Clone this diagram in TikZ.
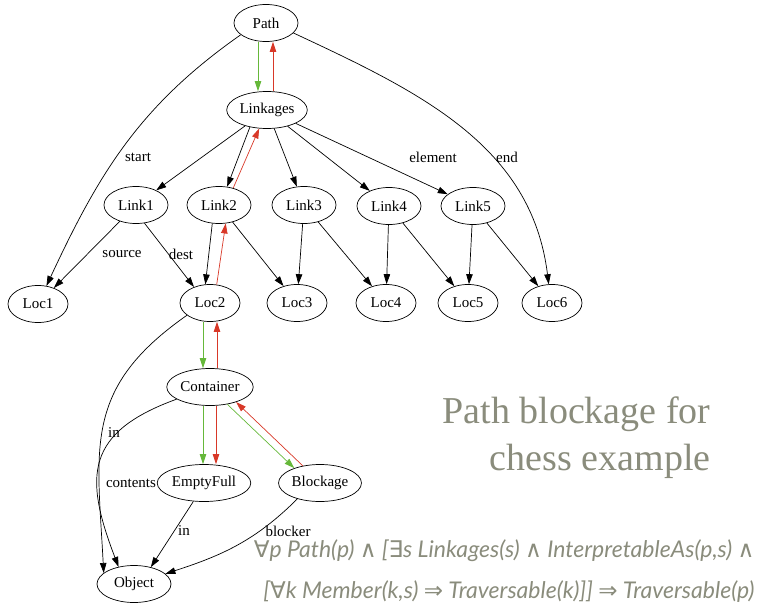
\documentclass[tikz,border=0pt]{standalone}
\usepackage{fontspec}
\setmainfont{Liberation Serif}
\newfontfamily\latofont{Lato}
\newfontfamily\dejavufont{DejaVu Sans}
\usetikzlibrary{shapes.geometric,arrows.meta}
\definecolor{fwdgreen}{RGB}{102,184,58}
\definecolor{bckred}{RGB}{216,56,40}
\definecolor{notegray}{RGB}{138,140,124}
\def\lsym#1{{\upshape\dejavufont #1}}
\def\nodefont{\fontsize{15}{17}\selectfont}

\begin{document}
\begin{tikzpicture}[x=1pt,y=1pt,
    st/.style={draw,ellipse,line width=0.7pt,minimum width=64pt,minimum height=37pt,inner xsep=1pt,font=\nodefont},
    lab/.style={inner sep=1pt,font=\nodefont},
    arr/.style={line width=0.7pt,-{Triangle[length=10pt,width=6.5pt]}},
    fwd/.style={arr,fwdgreen},
    bck/.style={arr,bckred}]
\useasboundingbox (0,0) rectangle (762,-607);

% top of the graph
\node[st] (Path) at (266,-23) {Path};
\node[st] (Linkages) at (267,-110) {Linkages};

\node[st] (Link1) at (136,-205) {Link1};
\node[st] (Link2) at (219,-205) {Link2};
\node[st] (Link3) at (304,-205) {Link3};
\node[st] (Link4) at (389,-206) {Link4};
\node[st] (Link5) at (473,-206) {Link5};

\node[st,minimum width=60pt] (Loc1) at (38,-304) {Loc1};
\node[st,minimum width=60pt] (Loc2) at (210,-303) {Loc2};
\node[st,minimum width=60pt] (Loc3) at (297,-303) {Loc3};
\node[st,minimum width=60pt] (Loc4) at (386,-303) {Loc4};
\node[st,minimum width=60pt] (Loc5) at (468,-303) {Loc5};
\node[st,minimum width=60pt] (Loc6) at (552,-303) {Loc6};

% lower part
\node[st] (Container) at (210,-387) {Container};
\node[st] (EmptyFull) at (204,-483) {EmptyFull};
\node[st] (Blockage) at (320,-483) {Blockage};
\node[st,minimum width=74pt] (Object) at (134,-584) {Object};

\node[lab] (lstart) at (138,-157) {start};
\node[lab] (lelement) at (433,-157) {element};
\node[lab] (lend) at (507,-157) {end};
\node[lab] (lsource) at (122,-254) {source};
\node[lab] (ldest) at (181,-254) {dest};
\node[lab] (lin) at (114,-433) {in};
\node[lab] (lcontents) at (131,-483) {contents};
\node[lab] (linb) at (184,-531) {in};
\node[lab] (lblocker) at (288,-531) {blocker};

\draw[fwd] ([xshift=-8pt]Path.south) -- ([xshift=-9pt]Linkages.north);
\draw[bck] ([xshift=6pt]Linkages.north) -- ([xshift=7pt]Path.south);
\draw[arr] (Path.205) to[out=215,in=65] (Loc1.65);
\draw[arr] (Path.-20) to[out=-25,in=97] (Loc6.100);

\draw[arr] (Linkages) -- (Link1);
\draw[arr] (Linkages.225) -- (Link2.66);
\draw[bck] (Link2.50) -- (Linkages.247);
\draw[arr] (Linkages) -- (Link3);
\draw[arr] (Linkages) -- (Link4);
\draw[arr] (Linkages) -- (Link5);

\draw[arr] (Link1) -- (Loc1);
\draw[arr] (Link1.295) -- (Loc2.135);
\draw[arr] (Link2.250) -- (Loc2.104);
\draw[bck] (Loc2.70) -- (Link2.290);
\draw[arr] (Link2) -- (Loc3);
\draw[arr] (Link3) -- (Loc3);
\draw[arr] (Link3) -- (Loc4);
\draw[arr] (Link4) -- (Loc4);
\draw[arr] (Link4) -- (Loc5);
\draw[arr] (Link5) -- (Loc5);
\draw[arr] (Link5) -- (Loc6);

\draw[fwd] ([xshift=-7pt]Loc2.south) -- ([xshift=-7pt]Container.north);
\draw[bck] ([xshift=7pt]Container.north) -- ([xshift=7pt]Loc2.south);
\draw[fwd] ([xshift=-7pt]Container.south) -- ([xshift=-1pt]EmptyFull.north);
\draw[bck] ([xshift=6pt]Container.south) -- ([xshift=12pt]EmptyFull.north);
\draw[fwd] (Container.315) -- (Blockage.150);
\draw[bck] (Blockage.135) -- (Container.330);

\draw[arr] (Loc2.208) to[out=215,in=93,looseness=1.2] (Object.160);
\draw[arr] (Container.200) to[out=200,in=111,looseness=1.4] (Object.132);
\draw[arr] (EmptyFull.240) -- (Object.45);
\draw[arr] (Blockage.215) to[out=225,in=18] (Object.18);

% caption and formula
\node[anchor=east,align=right,text=notegray,font=\fontsize{38}{47}\selectfont] (title) at (714,-438) {Path blockage for\\chess example};
\node[anchor=east,text=notegray,font=\latofont\itshape\fontsize{23}{27}\selectfont] (form1) at (758,-551)
  {\lsym{∀}p Path(p) \lsym{∧} [\lsym{∃}s Linkages(s) \lsym{∧} InterpretableAs(p,s) \lsym{∧}};
\node[anchor=east,text=notegray,font=\latofont\itshape\fontsize{23}{27}\selectfont] (form2) at (758,-592)
  {[\lsym{∀}k Member(k,s) \lsym{⇒} Traversable(k)]] \lsym{⇒} Traversable(p)};
\end{tikzpicture}
\end{document}
